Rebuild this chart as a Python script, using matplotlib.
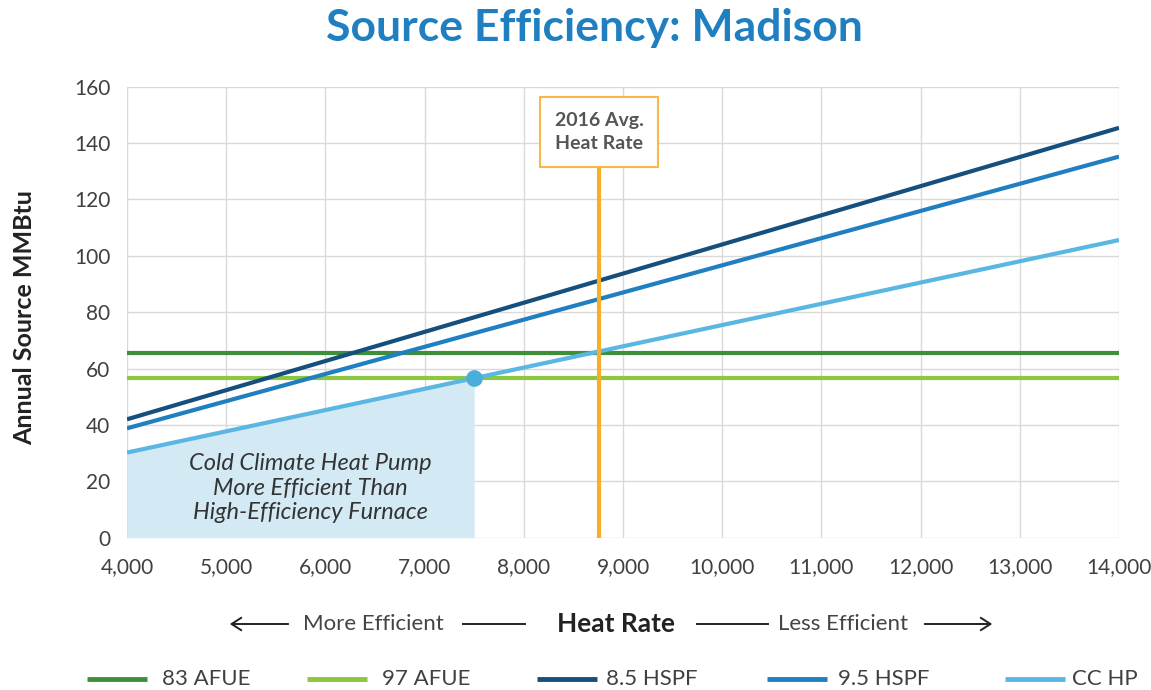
import matplotlib
matplotlib.use("Agg")
import matplotlib.pyplot as plt
import matplotlib.patches as mpatches
import numpy as np

# Data
heat_rate = [4000, 14000]
afue83 = [65.6, 65.6]
afue97 = [56.8, 56.8]
hspf85 = [42.0, 145.4]
hspf95 = [38.8, 135.2]
cchp = [30.2, 105.6]
avg_heat_rate = 8760
crossover_x = 7500
series_names = ["83 AFUE", "97 AFUE", "8.5 HSPF", "9.5 HSPF", "CC HP"]
colors = ["#3f8f3a", "#8dc63f", "#154f7e", "#1f7fc0", "#5ab6e2"]
xticks = list(range(4000, 14001, 1000))
yticks = list(range(0, 161, 20))

FONT = ["Lato", "DejaVu Sans"]
plt.rcParams["font.family"] = FONT
TXT = "#404040"

W, H = 1151, 690
fig = plt.figure(figsize=(W / 100, H / 100), dpi=100)
ax = fig.add_axes([127 / W, 1 - 537.7 / H, (1119 - 127) / W, (537.7 - 86.7) / H])

def fx(px):
    return px / W

def fy(py):
    return 1 - py / H

# shaded region under CC HP up to crossover
xs = np.array([heat_rate[0], crossover_x])
ys = np.interp(xs, heat_rate, cchp)
ax.fill_between(xs, 0, ys, color="#d3eaf5", zorder=1, linewidth=0)

all_series = [afue83, afue97, hspf85, hspf95, cchp]
for name, vals, c in zip(series_names, all_series, colors):
    ax.plot(heat_rate, vals, color=c, lw=3, label=name, zorder=3, solid_capstyle="butt")

# vertical avg heat rate line
ax.plot([avg_heat_rate, avg_heat_rate], [0, 131.0], color="#f9ae2b", lw=3, zorder=4)
ax.text(avg_heat_rate, 144.0, "2016 Avg.\nHeat Rate", ha="center", va="center",
        fontsize=14, fontweight="bold", color="#555555", linespacing=1.45,
        bbox=dict(boxstyle="square,pad=0.75", fc="white", ec="#f9b84a", lw=1.5), zorder=5)

# marker
ax.plot([crossover_x], [np.interp(crossover_x, heat_rate, cchp)], "o", color="#4aaedb",
        ms=11, zorder=6)

ax.text(5850, 17.5, "Cold Climate Heat Pump\nMore Efficient Than\nHigh-Efficiency Furnace",
        ha="center", va="center", fontsize=17, style="italic", color="#333333",
        linespacing=1.2, zorder=5)

ax.set_xlim(4000, 14000)
ax.set_ylim(0, 160)
ax.set_xticks(xticks)
ax.set_xticklabels([f"{v:,}" for v in xticks])
ax.set_yticks(yticks)
ax.tick_params(length=0, labelsize=15, colors=TXT, pad=14)
ax.tick_params(axis="y", pad=12)
ax.grid(True, color="#d9d9d9", lw=1, zorder=0)
ax.set_axisbelow(True)
for s in ax.spines.values():
    s.set_visible(False)

fig.text(fx(25), fy(318), "Annual Source MMBtu", rotation=90, ha="center", va="center",
         fontsize=18, fontweight="bold", color="#222222")

fig.text(fx(594), fy(28), "Source Efficiency: Madison", ha="center", va="center",
         fontsize=32, fontweight="bold", color="#1f7fc0")

# axis label row with arrows
yrow = fy(624)
fig.text(fx(616), yrow, "Heat Rate", ha="center", va="center", fontsize=19,
         fontweight="bold", color="#222222")
fig.text(fx(373), yrow, "More Efficient", ha="center", va="center", fontsize=16, color="#444444")
fig.text(fx(843), yrow, "Less Efficient", ha="center", va="center", fontsize=16, color="#444444")
for x0, x1 in [(463, 525), (697, 768)]:
    fig.add_artist(plt.Line2D([fx(x0), fx(x1)], [yrow, yrow], color="#222222", lw=1.4))
fig.add_artist(mpatches.FancyArrowPatch((fx(291), yrow), (fx(227), yrow),
               transform=fig.transFigure, arrowstyle="->,head_length=7,head_width=4.5",
               color="#222222", lw=1.4))
fig.add_artist(mpatches.FancyArrowPatch((fx(922), yrow), (fx(995), yrow),
               transform=fig.transFigure, arrowstyle="->,head_length=7,head_width=4.5",
               color="#222222", lw=1.4))

# legend (manual placement)
leg_line_x = [87, 307, 537, 767, 1005]
leg_text_x = [162, 382, 606, 838, 1072]
ly = fy(679)
for name, c, lx, tx in zip(series_names, colors, leg_line_x, leg_text_x):
    fig.add_artist(plt.Line2D([fx(lx), fx(lx + 60)], [ly, ly], color=c, lw=3.5,
                              solid_capstyle="butt"))
    fig.text(fx(tx), ly, name, ha="left", va="center", fontsize=16, color=TXT)

fig.savefig("out.png", dpi=100)
